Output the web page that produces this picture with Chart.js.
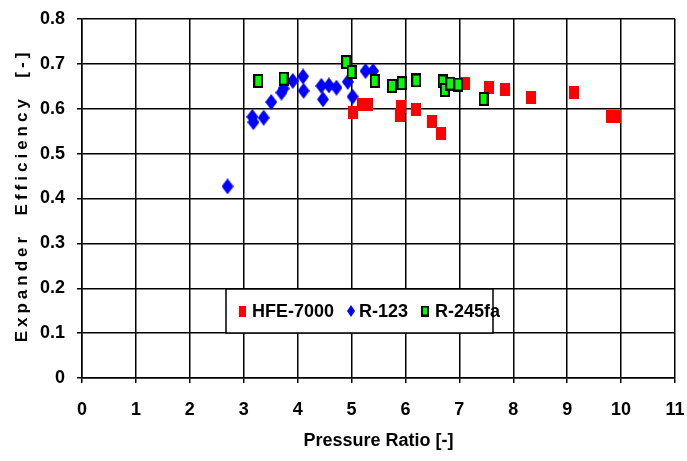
<!DOCTYPE html>
<html>
<head>
<meta charset="utf-8">
<script src="https://cdn.jsdelivr.net/npm/chart.js@4"></script>
<style>
  body { margin: 0; background: #fff; }
  canvas { display: block; }
</style>
</head>
<body>
<canvas id="effChart" width="687" height="461"></canvas>
<script>
// values
var hfeRatio = [5.02, 5.20, 5.30, 5.89, 5.92, 6.19, 6.49, 6.66, 7.10, 7.55, 7.84, 8.32, 9.12, 9.81, 9.91];
var hfeEff   = [0.591, 0.610, 0.610, 0.584, 0.606, 0.598, 0.572, 0.545, 0.656, 0.648, 0.642, 0.626, 0.636, 0.582, 0.582];

var r123Ratio = [2.70, 3.16, 3.18, 3.37, 3.51, 3.70, 3.74, 3.91, 4.10, 4.11, 4.44, 4.47, 4.58, 4.72, 4.93, 5.02, 5.26, 5.40];
var r123Eff   = [0.427, 0.582, 0.570, 0.580, 0.615, 0.636, 0.645, 0.662, 0.672, 0.640, 0.651, 0.621, 0.652, 0.647, 0.660, 0.627, 0.684, 0.684];

var r245Ratio = [3.27, 3.74, 4.90, 5.00, 5.43, 5.75, 5.93, 6.20, 6.69, 6.73, 6.83, 6.98, 7.45];
var r245Eff   = [0.662, 0.667, 0.704, 0.682, 0.662, 0.651, 0.657, 0.663, 0.661, 0.642, 0.656, 0.654, 0.622];

var seriesNames = ['HFE-7000', 'R-123', 'R-245fa'];
var yTitle = 'Expander  Efficiency  [-]';

function pairs(xs, ys) {
    return xs.map(function(x, i) { return { x: x, y: ys[i] }; });
}

// marker images
function rectMarker(w, h, fill, stroke) {
    var c = document.createElement('canvas');
    c.width = w; c.height = h;
    var g = c.getContext('2d');
    g.fillStyle = fill;
    g.fillRect(0, 0, w, h);
    if (stroke) {
        g.strokeStyle = stroke;
        g.lineWidth = 2;
        g.strokeRect(1, 1, w - 2, h - 2);
    }
    return c;
}
function diamondMarker(w, h, fill) {
    var c = document.createElement('canvas');
    c.width = w; c.height = h;
    var g = c.getContext('2d');
    g.fillStyle = fill;
    g.beginPath();
    g.moveTo(w / 2, 0); g.lineTo(w, h / 2); g.lineTo(w / 2, h); g.lineTo(0, h / 2);
    g.closePath();
    g.fill();
    return c;
}

var redMark = rectMarker(10, 13, '#ff0000');
var blueMark = diamondMarker(12, 16, '#0000ff');
var greenMark = rectMarker(10, 14, '#00ff00', '#000');

var fam = "'Liberation Sans', Arial, sans-serif";

// legend box sits inside the plot, like the original; y title is spaced out
var extras = {
    id: 'extras',
    afterDraw: function(chart) {
        var ctx = chart.ctx;
        var marks = [
            rectMarker(7, 11, '#ff0000'),
            diamondMarker(8, 12, '#0000ff'),
            rectMarker(8, 11, '#00ff00', '#000')
        ];
        ctx.save();
        ctx.fillStyle = '#fff';
        ctx.fillRect(226, 289, 267, 44);
        ctx.strokeStyle = '#000';
        ctx.lineWidth = 1.5;
        ctx.strokeRect(226, 289, 267, 44);
        ctx.font = "bold 18px " + fam;
        ctx.fillStyle = '#000';
        ctx.textBaseline = 'middle';
        var x = 239, y = 312;
        chart.data.datasets.forEach(function(ds, i) {
            var m = marks[i];
            ctx.drawImage(m, x, y - m.height / 2 - 1);
            x += m.width + (i === 1 ? 4 : 6);
            ctx.fillText(ds.label, x, y);
            x += ctx.measureText(ds.label).width + 13;
        });
        ctx.restore();

        var a = chart.chartArea;
        ctx.save();
        ctx.translate(22, (a.top + a.bottom) / 2 - 3);
        ctx.rotate(-Math.PI / 2);
        ctx.font = "bold 17px " + fam;
        ctx.letterSpacing = '4px';
        ctx.fillStyle = '#000';
        ctx.textAlign = 'center';
        ctx.textBaseline = 'middle';
        ctx.fillText(yTitle, 0, 0);
        ctx.restore();
    }
};

var ctx = document.getElementById('effChart').getContext('2d');
var effChart = new Chart(ctx, {
    type: 'scatter',
    data: {
        datasets: [
            { label: seriesNames[0], data: pairs(hfeRatio, hfeEff), pointStyle: redMark, order: 2 },
            { label: seriesNames[1], data: pairs(r123Ratio, r123Eff), pointStyle: blueMark, order: 3 },
            { label: seriesNames[2], data: pairs(r245Ratio, r245Eff), pointStyle: greenMark, order: 1 }
        ]
    },
    options: {
        responsive: false,
        animation: false,
        layout: { padding: { left: 0, right: 12, top: 19, bottom: 0 } },
        plugins: {
            legend: { display: false },
            tooltip: { enabled: false }
        },
        scales: {
            x: {
                type: 'linear',
                min: 0, max: 11,
                afterFit: function(s) { s.height = 83; s.paddingLeft = 0; s.paddingRight = 0; },
                ticks: { stepSize: 1, padding: 16, color: '#000', font: { family: fam, size: 18, weight: 'bold' } },
                grid: { color: '#000', lineWidth: 1.5, tickLength: 5 },
                border: { color: '#000', width: 1.5 },
                title: { display: true, text: 'Pressure Ratio [-]', color: '#000', padding: { top: 0, bottom: 9 },
                         font: { family: fam, size: 18, weight: 'bold' } }
            },
            y: {
                min: 0, max: 0.8,
                afterFit: function(s) { s.width = 82; s.paddingTop = 0; s.paddingBottom = 0; },
                ticks: { stepSize: 0.1, padding: 12, color: '#000', font: { family: fam, size: 18, weight: 'bold' },
                         callback: function(v) { return Math.round(v * 10) / 10; } },
                grid: { color: '#000', lineWidth: 1.5, tickLength: 5 },
                border: { color: '#000', width: 1.5 },
                title: { display: false }
            }
        }
    },
    plugins: [extras]
});
</script>
</body>
</html>
